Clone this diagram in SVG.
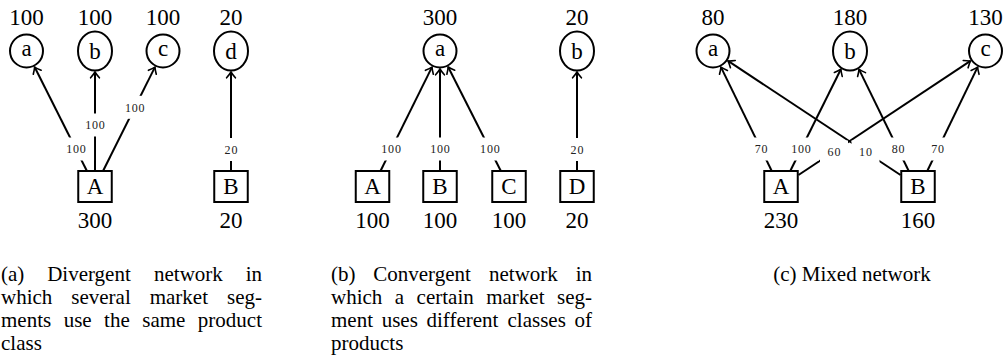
<svg xmlns="http://www.w3.org/2000/svg" width="1007" height="356" viewBox="0 0 1007 356">
  <style>
    .node { fill: #fff; stroke: #000; stroke-width: 2; }
    .nt { font-family: "Liberation Serif", "DejaVu Serif", "Noto Serif", "Times New Roman", serif; font-size: 23px; fill: #000; text-anchor: middle; }
    .edge { stroke: #000; stroke-width: 2; fill: none; marker-end: url(#tip); }
    .lbg { fill: #fff; stroke: none; }
    .lt { font-family: "Liberation Serif", "DejaVu Serif", "Noto Serif", "Times New Roman", serif; font-size: 12px; letter-spacing: 0.8px; fill: #222; text-anchor: middle; }
    .cap { font-family: "Liberation Serif", "DejaVu Serif", "Noto Serif", "Times New Roman", serif; font-size: 21px; fill: #000; }
  </style>
  <defs>
    <marker id="tip" viewBox="-8 -6 10 12" refX="0" refY="0" markerWidth="10" markerHeight="12" markerUnits="userSpaceOnUse" orient="auto">
      <path d="M-5.8,-4.4 Q-2.2,-1.3 0,0 Q-2.2,1.3 -5.8,4.4" fill="none" stroke="#000" stroke-width="1.6" stroke-linecap="round"/>
    </marker>
  </defs>

  <!-- connectors -->
  <g id="connectors">
    <!-- (a) divergent -->
    <line class="edge" x1="86.66" y1="170.5" x2="34.62" y2="67.07"/>
    <line class="edge" x1="95" y1="170.5" x2="95" y2="72"/>
    <line class="edge" x1="103.28" y1="170.5" x2="154.93" y2="67.09"/>
    <line class="edge" x1="231" y1="170.5" x2="231" y2="72"/>
    <!-- (b) convergent -->
    <line class="edge" x1="380.72" y1="170.5" x2="431.97" y2="67.11"/>
    <line class="edge" x1="440" y1="170.5" x2="440" y2="69"/>
    <line class="edge" x1="500.6" y1="170.5" x2="448.17" y2="67.04"/>
    <line class="edge" x1="577" y1="170.5" x2="577" y2="72"/>
    <!-- (c) mixed -->
    <line class="edge" x1="771.5" y1="170.5" x2="720.94" y2="67.15"/>
    <line class="edge" x1="790.5" y1="170.5" x2="840.87" y2="69.27"/>
    <line class="edge" x1="798.5" y1="175" x2="970.5" y2="60.95"/>
    <line class="edge" x1="900.5" y1="175" x2="728.01" y2="60.93"/>
    <line class="edge" x1="908.5" y1="170.5" x2="859.02" y2="69.34"/>
    <line class="edge" x1="927.5" y1="170.5" x2="977.61" y2="67.18"/>
  </g>

  <!-- flow labels on the connectors -->
  <g id="edge-labels">
    <rect class="lbg" x="58.04" y="137.5" width="36" height="23"/><text class="lt" x="76.4" y="153.2">100</text>
    <rect class="lbg" x="77" y="113.5" width="36" height="23"/><text class="lt" x="95.4" y="129.2">100</text>
    <rect class="lbg" x="116.75" y="95.8" width="36" height="23"/><text class="lt" x="135.1" y="111.5">100</text>
    <rect class="lbg" x="217" y="138" width="28" height="23"/><text class="lt" x="231.4" y="153.7">20</text>

    <rect class="lbg" x="373.17" y="137.5" width="36" height="23"/><text class="lt" x="391.5" y="153.2">100</text>
    <rect class="lbg" x="422" y="137.5" width="36" height="23"/><text class="lt" x="440.4" y="153.2">100</text>
    <rect class="lbg" x="471.9" y="137.5" width="36" height="23"/><text class="lt" x="490.3" y="153.2">100</text>
    <rect class="lbg" x="563" y="138" width="28" height="23"/><text class="lt" x="577.4" y="153.7">20</text>

    <rect class="lbg" x="747.2" y="137.5" width="28" height="23"/><text class="lt" x="761.6" y="153.2">70</text>
    <rect class="lbg" x="783" y="137.5" width="36" height="23"/><text class="lt" x="801.4" y="153.2">100</text>
    <rect class="lbg" x="820" y="140.5" width="28" height="23"/><text class="lt" x="834.4" y="156.2">60</text>
    <rect class="lbg" x="851.5" y="140.5" width="28" height="23"/><text class="lt" x="865.9" y="156.2">10</text>
    <rect class="lbg" x="884.2" y="137.5" width="28" height="23"/><text class="lt" x="898.6" y="153.2">80</text>
    <rect class="lbg" x="923.7" y="137.5" width="28" height="23"/><text class="lt" x="938.1" y="153.2">70</text>
  </g>

  <!-- (a) market segments -->
  <g id="a-seg-a"><circle class="node" cx="26.5" cy="51" r="16.5"/><text class="nt" x="26.5" y="56">a</text><text class="nt" x="26.5" y="24.5">100</text></g>
  <g id="a-seg-b"><ellipse class="node" cx="95" cy="51" rx="17" ry="19.5"/><text class="nt" x="95" y="59">b</text><text class="nt" x="95" y="24.5">100</text></g>
  <g id="a-seg-c"><circle class="node" cx="163" cy="51" r="16.5"/><text class="nt" x="163" y="56">c</text><text class="nt" x="163" y="24.5">100</text></g>
  <g id="a-seg-d"><ellipse class="node" cx="231" cy="51" rx="17" ry="19.5"/><text class="nt" x="231" y="59">d</text><text class="nt" x="231" y="24.5">20</text></g>
  <!-- (a) product classes -->
  <g id="a-cls-A"><rect class="node" x="78.25" y="171" width="33.5" height="31"/><text class="nt" x="95" y="194.4">A</text><text class="nt" x="95" y="228">300</text></g>
  <g id="a-cls-B"><rect class="node" x="214.25" y="171" width="33.5" height="31"/><text class="nt" x="231" y="194.4">B</text><text class="nt" x="231" y="228">20</text></g>

  <!-- (b) market segments -->
  <g id="b-seg-a"><circle class="node" cx="440" cy="51" r="16.5"/><text class="nt" x="440" y="56">a</text><text class="nt" x="440" y="24.5">300</text></g>
  <g id="b-seg-b"><ellipse class="node" cx="577" cy="51" rx="17" ry="19.5"/><text class="nt" x="577" y="59">b</text><text class="nt" x="577" y="24.5">20</text></g>
  <!-- (b) product classes -->
  <g id="b-cls-A"><rect class="node" x="355.75" y="171" width="33.5" height="31"/><text class="nt" x="372.5" y="194.4">A</text><text class="nt" x="372.5" y="228">100</text></g>
  <g id="b-cls-B"><rect class="node" x="423.25" y="171" width="33.5" height="31"/><text class="nt" x="440" y="194.4">B</text><text class="nt" x="440" y="228">100</text></g>
  <g id="b-cls-C"><rect class="node" x="492.25" y="171" width="33.5" height="31"/><text class="nt" x="509" y="194.4">C</text><text class="nt" x="509" y="228">100</text></g>
  <g id="b-cls-D"><rect class="node" x="560.25" y="171" width="33.5" height="31"/><text class="nt" x="577" y="194.4">D</text><text class="nt" x="577" y="228">20</text></g>

  <!-- (c) market segments -->
  <g id="c-seg-a"><circle class="node" cx="713" cy="51" r="16.5"/><text class="nt" x="713" y="56">a</text><text class="nt" x="713" y="24.5">80</text></g>
  <g id="c-seg-b"><ellipse class="node" cx="850" cy="51" rx="17" ry="19.5"/><text class="nt" x="850" y="59">b</text><text class="nt" x="850" y="24.5">180</text></g>
  <g id="c-seg-c"><circle class="node" cx="985.5" cy="51" r="16.5"/><text class="nt" x="985.5" y="56">c</text><text class="nt" x="985.5" y="24.5">130</text></g>
  <!-- (c) product classes -->
  <g id="c-cls-A"><rect class="node" x="764.25" y="171" width="33.5" height="31"/><text class="nt" x="781" y="194.4">A</text><text class="nt" x="781" y="228">230</text></g>
  <g id="c-cls-B"><rect class="node" x="901.25" y="171" width="33.5" height="31"/><text class="nt" x="918" y="194.4">B</text><text class="nt" x="918" y="228">160</text></g>

  <!-- sub-captions, justified word by word -->
  <g id="caption-a" class="cap">
    <text y="281"><tspan x="1">(a)</tspan><tspan x="47.16">Divergent</tspan><tspan x="153.99">network</tspan><tspan x="245.66">in</tspan></text>
    <text y="304"><tspan x="1">which</tspan><tspan x="71.29">several</tspan><tspan x="149.73">market</tspan><tspan x="227.02">seg-</tspan></text>
    <text y="327"><tspan x="1">ments</tspan><tspan x="63.64">use</tspan><tspan x="104.1">the</tspan><tspan x="142.23">same</tspan><tspan x="197.86">product</tspan></text>
    <text y="350" x="1">class</text>
  </g>
  <g id="caption-b" class="cap">
    <text y="281"><tspan x="331">(b)</tspan><tspan x="373.28">Convergent</tspan><tspan x="489.06">network</tspan><tspan x="575.67">in</tspan></text>
    <text y="304"><tspan x="331">which</tspan><tspan x="394.8">a</tspan><tspan x="416.6">certain</tspan><tspan x="486.22">market</tspan><tspan x="557.02">seg-</tspan></text>
    <text y="327"><tspan x="331">ment</tspan><tspan x="381.68">uses</tspan><tspan x="426.52">different</tspan><tspan x="507.5">classes</tspan><tspan x="574.5">of</tspan></text>
    <text y="350" x="331">products</text>
  </g>
  <g id="caption-c" class="cap">
    <text y="281" x="852" text-anchor="middle">(c) Mixed network</text>
  </g>
</svg>
